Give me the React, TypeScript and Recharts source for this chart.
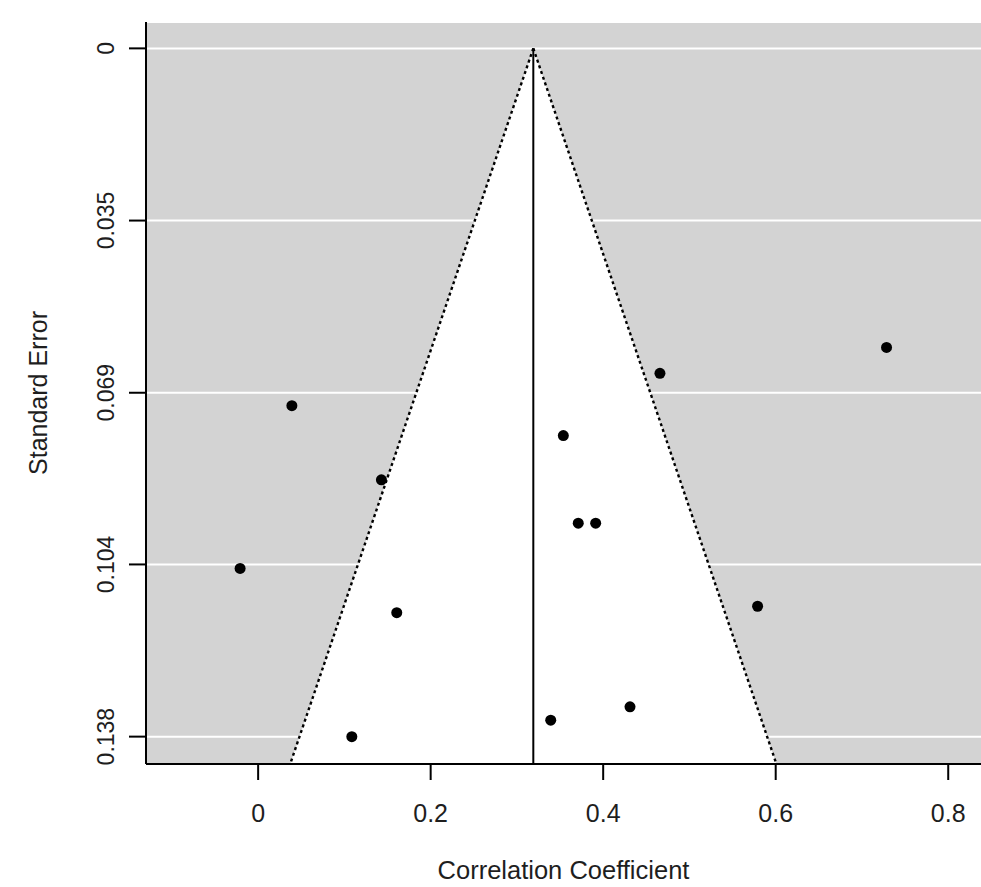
import React from 'react';
import {
  ComposedChart, Scatter, XAxis, YAxis, CartesianGrid, ReferenceArea, ReferenceLine,
} from 'recharts';

// Study estimates (correlation coefficient) and their standard errors
const effects = [0.0391, 0.1429, -0.0209, 0.1607, 0.7285, 0.4658, 0.3538, 0.3711, 0.3913, 0.5790, 0.3392, 0.4311, 0.1086];
const stdErrors = [0.0718, 0.0867, 0.1045, 0.1134, 0.0601, 0.0653, 0.0778, 0.0954, 0.0954, 0.1121, 0.1350, 0.1323, 0.1383];

const pooledEstimate = 0.319;
const xTicks = [0, 0.2, 0.4, 0.6, 0.8];
const xTickLabels = ['0', '0.2', '0.4', '0.6', '0.8'];
const yTicks = [0, 0.0346, 0.0692, 0.1037, 0.1383];
const yTickLabels = ['0', '0.035', '0.069', '0.104', '0.138'];
const xDomain: [number, number] = [-0.13, 0.838];
const yDomain: [number, number] = [-0.0053, 0.1438];

const points = effects.map((x, i) => ({ x, y: stdErrors[i] }));
const funnelBottom = yDomain[1];
const funnelLeft = pooledEstimate - 1.96 * funnelBottom;
const funnelRight = pooledEstimate + 1.96 * funnelBottom;

const FONT = '"Liberation Sans", Arial, sans-serif';
const TEXT = '#1e1e1e';

const XTick = (props: any) => {
  const { x, y, index } = props;
  return (
    <text x={x} y={y + 40} textAnchor="middle" fontFamily={FONT} fontSize={25} fill={TEXT}>
      {xTickLabels[index]}
    </text>
  );
};

const YTick = (props: any) => {
  const { x, y, index } = props;
  const tx = x - 13;
  return (
    <text x={tx} y={y} transform={`rotate(-90, ${tx}, ${y})`} textAnchor="middle" fontFamily={FONT} fontSize={23} fill={TEXT}>
      {yTickLabels[index]}
    </text>
  );
};

const Funnel = (props: any) => {
  const { x, y, width, height } = props;
  const pts = `${x + width / 2},${y} ${x},${y + height} ${x + width},${y + height}`;
  return <polygon points={pts} fill="#ffffff" stroke="none" />;
};

const Dot = (props: any) => {
  const { cx, cy } = props;
  return <circle cx={cx} cy={cy} r={5.5} fill="#000" />;
};

export default function App() {
  return (
    <div style={{ position: 'absolute', left: 0, top: 0, background: '#fff' }}>
      <ComposedChart width={981} height={887} margin={{ top: 22, right: 0, bottom: 0, left: 0 }}>
        <CartesianGrid fill="#d3d3d3" fillOpacity={1} vertical={false} stroke="#ffffff" strokeWidth={2} />
        <XAxis
          type="number"
          dataKey="x"
          domain={xDomain}
          allowDataOverflow
          ticks={xTicks}
          height={123}
          tickSize={16}
          tickLine={{ stroke: '#000', strokeWidth: 2 }}
          axisLine={{ stroke: '#000', strokeWidth: 2 }}
          tick={<XTick />}
          interval={0}
          label={{
            content: (p: any) => {
              const vb = p.viewBox;
              return (
                <text x={vb.x + vb.width / 2} y={vb.y + 115} textAnchor="middle" fontFamily={FONT} fontSize={25.5} fill={TEXT}>
                  Correlation Coefficient
                </text>
              );
            },
          }}
        />
        <YAxis
          type="number"
          dataKey="y"
          reversed
          domain={yDomain}
          allowDataOverflow
          ticks={yTicks}
          width={146}
          tickSize={17}
          tickLine={{ stroke: '#000', strokeWidth: 2 }}
          axisLine={{ stroke: '#000', strokeWidth: 2 }}
          tick={<YTick />}
          interval={0}
          label={{
            content: (p: any) => {
              const vb = p.viewBox;
              const cx = 47;
              const cy = vb.y + vb.height / 2;
              return (
                <text x={cx} y={cy} transform={`rotate(-90, ${cx}, ${cy})`} textAnchor="middle" fontFamily={FONT} fontSize={25} fill={TEXT}>
                  Standard Error
                </text>
              );
            },
          }}
        />
        <ReferenceArea x1={funnelLeft} x2={funnelRight} y1={0} y2={funnelBottom} shape={<Funnel />} ifOverflow="visible" />
        <ReferenceLine
          segment={[{ x: pooledEstimate, y: 0 }, { x: funnelLeft, y: funnelBottom }]}
          stroke="#000" strokeWidth={2.4} strokeDasharray="3 3" ifOverflow="visible"
        />
        <ReferenceLine
          segment={[{ x: pooledEstimate, y: 0 }, { x: funnelRight, y: funnelBottom }]}
          stroke="#000" strokeWidth={2.4} strokeDasharray="3 3" ifOverflow="visible"
        />
        <ReferenceLine
          segment={[{ x: pooledEstimate, y: 0 }, { x: pooledEstimate, y: funnelBottom }]}
          stroke="#000" strokeWidth={2} ifOverflow="visible"
        />
        <Scatter data={points} dataKey="y" fill="#000" shape={<Dot />} isAnimationActive={false} />
      </ComposedChart>
    </div>
  );
}
